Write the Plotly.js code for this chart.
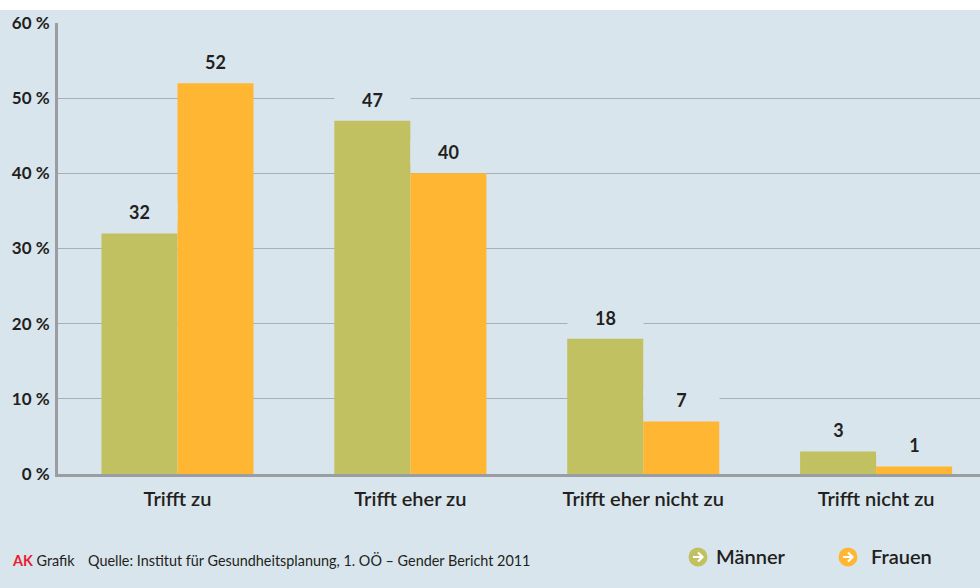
<!DOCTYPE html>
<html lang="de">
<head>
<meta charset="utf-8">
<title>Trifft zu – Männer und Frauen</title>
<script src="https://cdn.plot.ly/plotly-3.0.1.min.js"></script>
<style>html,body{margin:0;padding:0;background:#fff}#chart{width:980px;height:588px}</style>
</head>
<body>
<div id="chart"></div>
<script>
// Antworten in Prozent, getrennt nach Geschlecht
const categories = ['Trifft zu', 'Trifft eher zu', 'Trifft eher nicht zu', 'Trifft nicht zu'];
const maenner = [32, 47, 18, 3];
const frauen = [52, 40, 7, 1];
const yTicks = [0, 10, 20, 30, 40, 50, 60];

const GREEN = '#c1c161', ORANGE = '#ffb733', BG = '#d9e5ed', INK = '#231f20', FONT = 'Lato, sans-serif';
const W = 980, H = 588, L = 58, T = 23, B = 114;
const BAR_OFFSET = 0.163; // half a bar width, in category units

const px = x => (x - L) / (W - L);
const py = y => (H - B - y) / (H - B - T);

// Value labels carry the background colour, so gridlines stop around them
const valueLabel = (v, i, shift) => ({
  x: i + shift, y: v, xref: 'x', yref: 'y', text: String(v), showarrow: false,
  yanchor: 'bottom', yshift: 10, width: 75, height: 20, borderpad: 0, bgcolor: BG,
  font: {family: FONT, size: 18, weight: 700, color: INK}
});

const legendKey = (cx, color) => ([
  {type: 'circle', xref: 'paper', yref: 'paper', xsizemode: 'pixel', ysizemode: 'pixel',
   xanchor: px(cx), yanchor: py(557), x0: -9.5, x1: 9.5, y0: -9.5, y1: 9.5,
   fillcolor: color, line: {width: 0}},
  {type: 'path', xref: 'paper', yref: 'paper', xsizemode: 'pixel', ysizemode: 'pixel',
   xanchor: px(cx), yanchor: py(557), path: 'M-5,0 L4,0 M0,-4.5 L4.5,0 L0,4.5',
   line: {color: '#ffffff', width: 2.2}}
]);

const footText = (x, text) => ({
  x: px(x), y: py(560), xref: 'paper', yref: 'paper', xanchor: 'left', yanchor: 'middle',
  showarrow: false, borderpad: 0, xshift: -1, text, font: {family: FONT, size: 14.4, color: INK}
});
const legendText = (x, text) => ({
  x: px(x), y: py(556), xref: 'paper', yref: 'paper', xanchor: 'left', yanchor: 'middle',
  showarrow: false, borderpad: 0, xshift: -1, text, font: {family: FONT, size: 20, weight: 600, color: INK}
});

const traces = [
  {type: 'bar', name: 'Männer', x: categories.map((_, i) => i), y: maenner, marker: {color: GREEN}},
  {type: 'bar', name: 'Frauen', x: categories.map((_, i) => i), y: frauen, marker: {color: ORANGE}}
];

const layout = {
  width: W, height: H, showlegend: false, barmode: 'group', bargap: 0.347, bargroupgap: 0,
  paper_bgcolor: '#ffffff', plot_bgcolor: BG,
  margin: {l: L, r: 0, t: T, b: B, pad: 0},
  font: {family: FONT, color: INK},
  xaxis: {
    range: [-0.513, 3.446], tickmode: 'array', tickvals: categories.map((_, i) => i),
    ticktext: categories, ticks: '', ticklen: 0, showgrid: false, zeroline: false,
    showline: true, linecolor: '#9a9da2', linewidth: 3, ticklabelstandoff: 5,
    tickfont: {family: FONT, size: 20, weight: 600, color: INK}
  },
  yaxis: {
    range: [0, 60], tickmode: 'array', tickvals: yTicks, ticktext: yTicks.map(t => t + ' %'), ticks: '',
    showgrid: true, gridcolor: '#a9afb5', gridwidth: 1.3, zeroline: false,
    showline: true, linecolor: '#9a9da2', linewidth: 3, ticklabelstandoff: 2,
    tickfont: {family: FONT, size: 17, weight: 700, color: INK}
  },
  shapes: [
    {type: 'rect', xref: 'paper', yref: 'paper', layer: 'below', x0: px(0), x1: 1, y0: py(H), y1: py(10),
     fillcolor: BG, line: {width: 0}},
    ...legendKey(698, GREEN), ...legendKey(848, ORANGE)
  ],
  annotations: [
    ...maenner.map((v, i) => valueLabel(v, i, -BAR_OFFSET)),
    ...frauen.map((v, i) => valueLabel(v, i, BAR_OFFSET)),
    footText(12, '<span style="color:#e8202e;font-weight:700">AK</span> Grafik'),
    footText(88, 'Quelle: Institut für Gesundheitsplanung, 1. OÖ – Gender Bericht 2011'),
    legendText(716, 'Männer'),
    legendText(871, 'Frauen')
  ]
};

Plotly.newPlot('chart', traces, layout, {displayModeBar: false, staticPlot: true});
</script>
</body>
</html>
